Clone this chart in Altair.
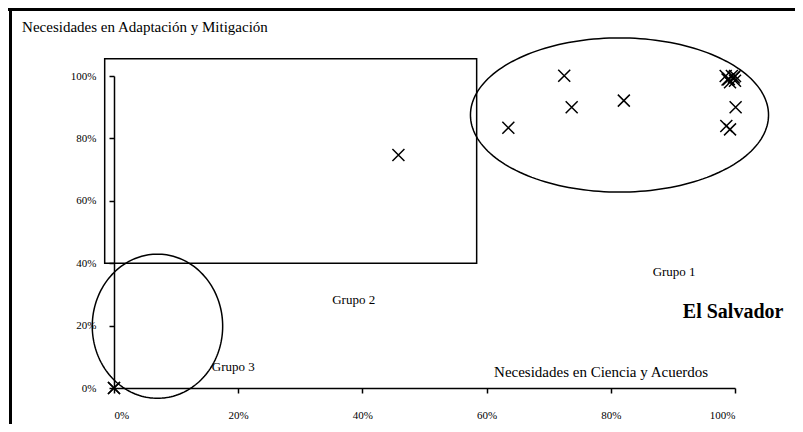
import altair as alt
import numpy as np
import pandas as pd

# ---- data (percent values) ----
x_ciencia = [0, 0, 45.8, 63.5, 72.5, 73.7, 82.1, 98.5, 99.0, 99.5, 100.0, 99.8, 99.2, 100.0, 98.8, 100.1, 98.6, 99.2]
y_adapt = [0, 0, 74.7, 83.4, 100.1, 90.0, 92.1, 100.0, 99.0, 100.0, 98.5, 99.5, 98.0, 100.0, 98.9, 90.0, 84.0, 82.9]

tick_values = [0, 20, 40, 60, 80, 100]

# group annotations (in data units)
rect_x = [-1.5]
rect_x2 = [58.4]
rect_y = [105.5]
rect_y2 = [40.0]

ellipse_names = ["Grupo 1", "Grupo 3"]
ellipse_cx = [81.4, 7.0]
ellipse_cy = [87.5, 19.8]
ellipse_rx = [24.0, 10.5]
ellipse_ry = [24.7, 23.1]

label_text = ["Grupo 1", "Grupo 2", "Grupo 3"]
label_x = [90.2, 38.6, 19.2]
label_y = [37.2, 28.2, 6.7]

y_title = "Necesidades en Adaptación y Mitigación"
x_title = "Necesidades en Ciencia y Acuerdos"
country = "El Salvador"

# ---- tables ----
pts = pd.DataFrame({"x": x_ciencia, "y": y_adapt})
rect_df = pd.DataFrame({"x": rect_x, "x2": rect_x2, "y": rect_y, "y2": rect_y2})

t = np.linspace(0, 2 * np.pi, 181)
rows = []
for n, cx, cy, rx, ry in zip(ellipse_names, ellipse_cx, ellipse_cy, ellipse_rx, ellipse_ry):
    for i, tt in enumerate(t):
        rows.append({"g": n, "i": i, "x": cx + rx * np.cos(tt), "y": cy + ry * np.sin(tt)})
ell_df = pd.DataFrame(rows)

lab_df = pd.DataFrame({"t": label_text, "x": label_x, "y": label_y})
one = pd.DataFrame({"a": [0]})

W, H = 621, 312
FONT = "Liberation Serif"

xs = alt.Scale(domain=[0, 100], nice=False, zero=False)
ys = alt.Scale(domain=[0, 100], nice=False, zero=False)

xaxis = alt.Axis(values=tick_values, labelExpr="datum.value + '%'", title=None, grid=False,
                 domainColor="black", domainWidth=1.5, tickColor="black", tickSize=5, tickWidth=1.5,
                 labelFont=FONT, labelFontSize=11, labelColor="black", labelPadding=16)
yaxis = alt.Axis(values=tick_values, labelExpr="datum.value + '%'", title=None, grid=False,
                 domainColor="black", domainWidth=1.5, tickColor="black", tickSize=5, tickWidth=1.5,
                 labelFont=FONT, labelFontSize=11, labelColor="black", labelPadding=13)

points = alt.Chart(pts).mark_point(
    shape="M-1,-1L1,1M1,-1L-1,1", size=144, filled=False, stroke="black", strokeWidth=1.5, opacity=1
).encode(
    x=alt.X("x:Q", scale=xs, axis=xaxis),
    y=alt.Y("y:Q", scale=ys, axis=yaxis),
)

rect = alt.Chart(rect_df).mark_rect(fillOpacity=0, stroke="black", strokeWidth=1.5).encode(
    x=alt.X("x:Q", scale=xs), x2="x2:Q", y=alt.Y("y:Q", scale=ys), y2="y2:Q"
)

ell = alt.Chart(ell_df).mark_line(color="black", strokeWidth=1.5).encode(
    x=alt.X("x:Q", scale=xs), y=alt.Y("y:Q", scale=ys), detail="g:N", order="i:Q"
)

labels = alt.Chart(lab_df).mark_text(font=FONT, fontSize=13, color="black").encode(
    x=alt.X("x:Q", scale=xs), y=alt.Y("y:Q", scale=ys), text="t:N"
)

ytitle = alt.Chart(pd.DataFrame({"t": [y_title], "x": [-14.8], "y": [115.7]})).mark_text(
    font=FONT, fontSize=15, color="black", align="left"
).encode(x=alt.X("x:Q", scale=xs), y=alt.Y("y:Q", scale=ys), text="t:N")

xtitle = alt.Chart(pd.DataFrame({"t": [x_title], "x": [61.2], "y": [5.1]})).mark_text(
    font=FONT, fontSize=15, color="black", align="left"
).encode(x=alt.X("x:Q", scale=xs), y=alt.Y("y:Q", scale=ys), text="t:N")

ctext = alt.Chart(pd.DataFrame({"t": [country], "x": [91.6], "y": [24.5]})).mark_text(
    font=FONT, fontSize=20, fontWeight="bold", color="black", align="left"
).encode(x=alt.X("x:Q", scale=xs), y=alt.Y("y:Q", scale=ys), text="t:N")

frame_top = alt.Chart(one).mark_rule(color="black", strokeWidth=3).encode(
    x=alt.value(-106), x2=alt.value(681), y=alt.value(-66.5)
)
frame_left = alt.Chart(one).mark_rule(color="black", strokeWidth=3).encode(
    x=alt.value(-103.5), y=alt.value(-68), y2=alt.value(348)
)

chart = alt.layer(
    rect, ell, points, labels, ytitle, xtitle, ctext, frame_top, frame_left
).properties(
    width=W, height=H,
    autosize=alt.AutoSizeParams(type="none"),
    padding={"left": 106, "top": 68, "right": 60, "bottom": 36},
    background="white",
).configure_view(strokeWidth=0)

chart.save("out.html", embed_options={"renderer": "svg", "actions": False})
